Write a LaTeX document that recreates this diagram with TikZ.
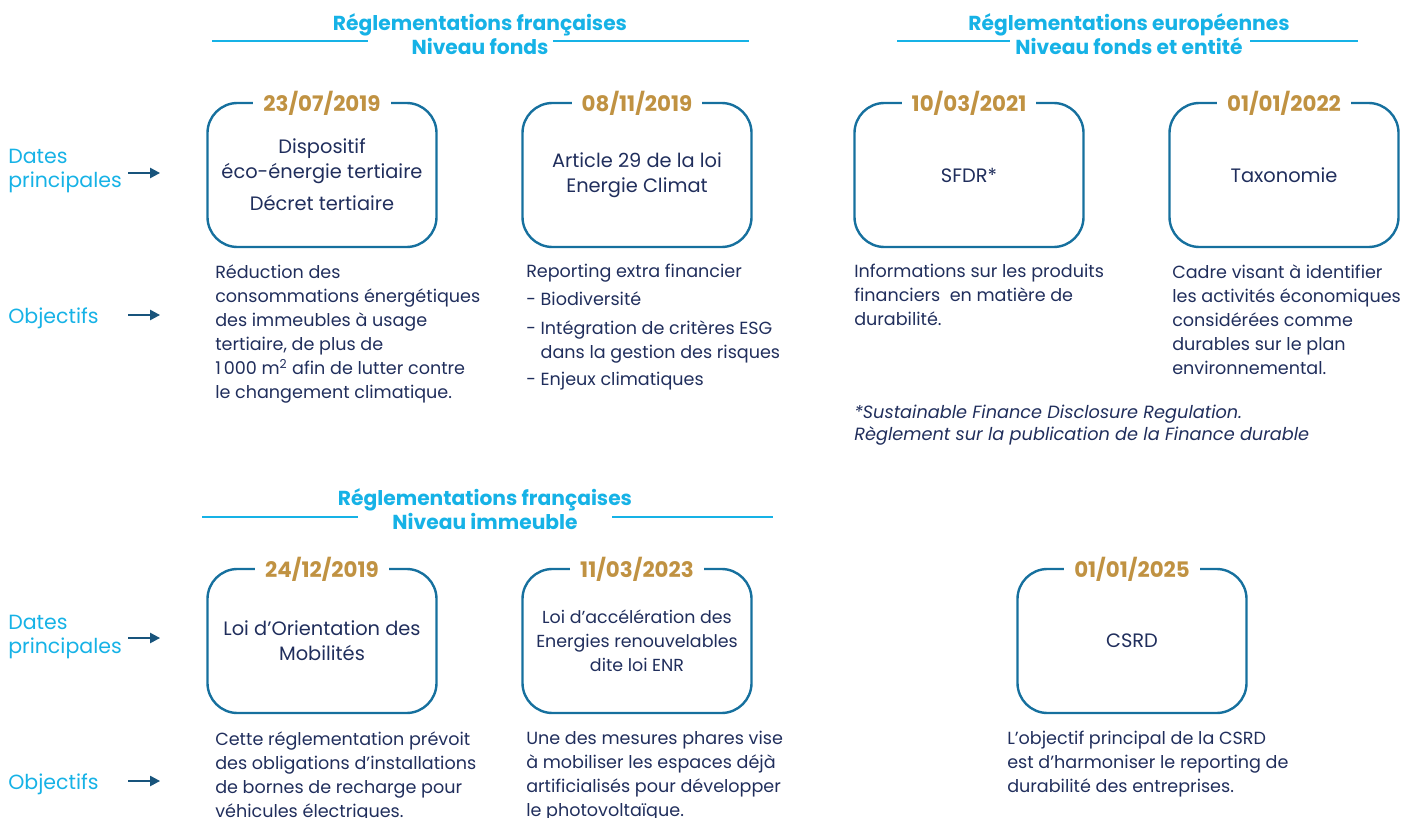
\documentclass[tikz,border=0pt]{standalone}
\usepackage{fontspec}
\setmainfont{Poppins}
\usetikzlibrary{arrows.meta}

\definecolor{headcyan}{RGB}{22,178,230}
\definecolor{boxblue}{RGB}{22,112,158}
\definecolor{dategold}{RGB}{192,146,66}
\definecolor{navytxt}{RGB}{32,46,92}
\definecolor{arrowblue}{RGB}{24,84,124}

\tikzset{
  regbox/.style={draw=boxblue, line width=1.7pt, rounded corners=7.5mm,
    minimum width=57.25mm, minimum height=36mm, align=center, text=navytxt,
    font=\fontsize{13.8}{17.6}\selectfont},
  datelbl/.style={fill=white, text=dategold, inner xsep=2.5mm, inner ysep=0.5mm,
    yshift=-0.5mm, font=\bfseries\fontsize{15.2}{17}\selectfont},
  objtxt/.style={anchor=north west, align=left, inner sep=0, text=navytxt,
    font=\fontsize{12.5}{17.1}\selectfont},
  headtxt/.style={align=center, text=headcyan, font=\bfseries\fontsize{14.4}{17.1}\selectfont},
  headrule/.style={headcyan, line width=0.8pt},
  sidelbl/.style={anchor=west, align=left, inner sep=0, text=headcyan,
    font=\fontsize{14.6}{17.1}\selectfont},
  sidearrow/.style={arrowblue, line width=1pt, -{Triangle[length=2.5mm,width=2.6mm]}}
}

\begin{document}
\begin{tikzpicture}[x=0.25mm,y=-0.25mm]
\useasboundingbox (0,0) rectangle (1403,818);

% headers
\node[headtxt] (hfr) at (480,34) {Réglementations françaises\\Niveau fonds};
\node[headtxt] (heu) at (1129,34) {Réglementations européennes\\Niveau fonds et entité};
\node[headtxt] (him) at (485,509) {Réglementations françaises\\Niveau immeuble};
\foreach \xa/\xb/\y in {212/368/41, 553/749/41, 897/1010/41, 1250/1358/41, 202/358/517, 612/773/517}
	\draw[headrule] (\xa,\y) -- (\xb,\y);

% side labels
\node[sidelbl] (dp1) at (8,171) {Dates\\principales};
\node[sidelbl] (ob1) at (8,318) {Objectifs};
\node[sidelbl] (dp2) at (8,637) {Dates\\principales};
\node[sidelbl] (ob2) at (8,784) {Objectifs};
\coordinate (dp1tip) at (160,173);
\coordinate (ob1tip) at (160,315);
\coordinate (dp2tip) at (160,638);
\coordinate (ob2tip) at (160,781);
\draw[sidearrow] ([xshift=1.5mm]dp1.east |- dp1tip) -- (dp1tip);
\draw[sidearrow] ([xshift=1.5mm]dp1.east |- ob1tip) -- (ob1tip);
\draw[sidearrow] ([xshift=1.5mm]dp2.east |- dp2tip) -- (dp2tip);
\draw[sidearrow] ([xshift=1.5mm]dp2.east |- ob2tip) -- (ob2tip);

% boxes
\node[regbox] (eco) at (322,175) {Dispositif\\éco-énergie tertiaire\\[5.5pt]Décret tertiaire};
\node[regbox] (art) at (637,175) {Article 29 de la loi\\Energie Climat};
\node[regbox] (sfdr) at (969,175) {SFDR*};
\node[regbox] (taxo) at (1284,175) {Taxonomie};
\node[regbox] (lom) at (322,641) {Loi d’Orientation des\\Mobilités};
\node[regbox, font=\fontsize{12.4}{17}\selectfont] (enr) at (637,641) {Loi d’accélération des\\Energies renouvelables\\dite loi ENR};
\node[regbox] (csrd) at (1132,641) {CSRD};

% dates
\node[datelbl] at (eco.north) {23/07/2019};
\node[datelbl] at (art.north) {08/11/2019};
\node[datelbl] at (sfdr.north) {10/03/2021};
\node[datelbl] at (taxo.north) {01/01/2022};
\node[datelbl] at (lom.north) {24/12/2019};
\node[datelbl] at (enr.north) {11/03/2023};
\node[datelbl] at (csrd.north) {01/01/2025};

% objectifs
\node[objtxt] (t1) at (215,264) {Réduction des\\consommations énergétiques\\des immeubles à usage\\tertiaire, de plus de\\1\,000 m\textsuperscript{2} afin de lutter contre\\le changement climatique.};
\node[objtxt] (t2) at (526,264) {Reporting extra financier\\[2.8pt]- Biodiversité\\[3.5pt]- Intégration de critères ESG\\\phantom{- }dans la gestion des risques\\[2.2pt]- Enjeux climatiques};
\node[objtxt] (t3) at (854,264) {Informations sur les produits\\financiers~ en matière de\\durabilité.};
\node[objtxt] (t4) at (1172,264) {Cadre visant à identifier\\les activités économiques\\considérées comme\\durables sur le plan\\environnemental.};
\node[objtxt, font=\itshape\fontsize{12.6}{15.6}\selectfont] (note) at (854,405) {*Sustainable Finance Disclosure Regulation.\\Règlement sur la publication de la Finance durable};
\node[objtxt] (t5) at (215,731) {Cette réglementation prévoit\\des obligations d’installations\\de bornes de recharge pour\\véhicules électriques.};
\node[objtxt] (t6) at (526,731) {Une des mesures phares vise\\à mobiliser les espaces déjà\\artificialisés pour développer\\le photovoltaïque.};
\node[objtxt] (t7) at (1007,731) {L’objectif principal de la CSRD\\est d’harmoniser le reporting de\\durabilité des entreprises.};
\end{tikzpicture}
\end{document}
